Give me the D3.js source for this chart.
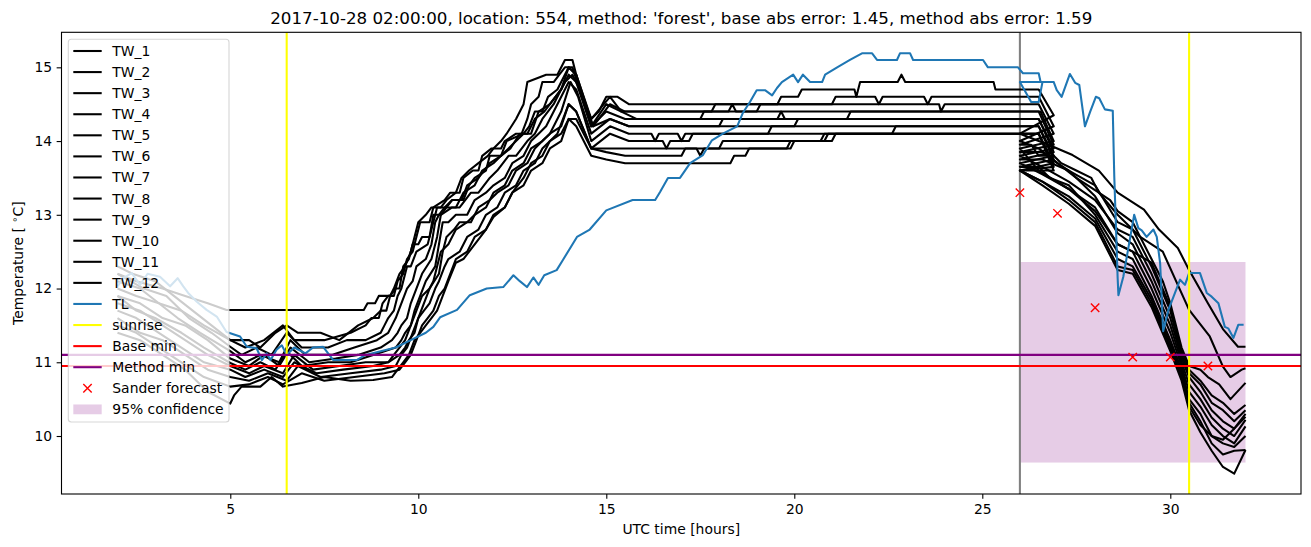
<!DOCTYPE html>
<html><head><meta charset="utf-8">
<script src="https://cdn.jsdelivr.net/npm/d3@7"></script>
<style>body{margin:0;background:#fff}svg{display:block}text{font-family:"DejaVu Sans",sans-serif;fill:#000}</style>
</head><body><svg id="c" width="1311" height="547"></svg>
<script>
// ---------- DATA ----------
const titleText = "2017-10-28 02:00:00, location: 554, method: 'forest', base abs error: 1.45, method abs error: 1.59";
const xTicks = [5, 10, 15, 20, 25, 30];
const yTicks = [10, 11, 12, 13, 14, 15];
const twNames = ["TW_1","TW_2","TW_3","TW_4","TW_5","TW_6","TW_7","TW_8","TW_9","TW_10","TW_11","TW_12"];

const tw1 = [[2,12.2],[2.5,12.1],[3.2,12.0],[3.8,11.9],[4.4,11.8],[4.9,11.71],[8.55,11.71],[8.65,11.8],[8.85,11.8],[8.95,11.9],[9.25,11.9],[9.35,12.0],[9.5,12.2],[9.65,12.3],[9.8,12.5],[9.9,12.7],[10.0,12.9],[10.2,13.0],[10.35,13.1],[10.6,13.1],[10.75,13.2],[11.0,13.3],[11.15,13.5],[11.35,13.6],[11.6,13.7],[11.85,13.8],[12.0,13.9],[12.2,14.0],[12.35,14.1],[12.6,14.3],[12.8,14.5],[12.9,14.8],[13.4,14.9],[13.7,14.9],[13.9,15.1],[14.1,15.1],[14.35,14.6],[14.6,14.3],[14.8,14.4],[15.0,14.6],[15.3,14.6],[15.6,14.5],[19.55,14.5],[19.65,14.6],[20.1,14.6],[20.2,14.7],[21.6,14.7],[21.65,14.6],[21.75,14.8],[22.75,14.8],[22.85,14.9],[22.95,14.8],[25.3,14.8],[25.35,14.7],[26.5,14.7],[26.9,14.35],
  [26.0,14.1],[26.5,14.0],[26.9,13.92],[27.4,13.81],[28.1,13.6],[28.6,13.3],[29.3,13.07],[29.7,12.8],[30.2,12.55],[30.5,12.25],[31.0,11.8],[31.4,11.45],[31.8,11.21],[32.0,11.21]];
const tw2 = [[2,12.3],[2.4,12.2],[3.0,12.1],[3.5,11.9],[4.0,11.7],[4.5,11.5],[5.0,11.3],[5.4,11.2],[5.9,11.3],[6.4,11.5],[6.7,11.3],[7.5,11.3],[8.2,11.4],[8.6,11.5],[8.75,11.6],[8.95,11.6],[9.05,11.8],[9.2,11.9],[9.35,11.9],[9.45,12.1],[9.6,12.2],[9.7,12.4],[9.85,12.5],[9.95,12.7],[10.05,12.9],[10.3,12.9],[10.4,13.1],[10.7,13.2],[10.85,13.3],[11.1,13.3],[11.2,13.5],[11.45,13.6],[11.6,13.6],[11.7,13.8],[11.95,13.9],[12.2,13.9],[12.3,14.0],[12.6,14.1],[12.75,14.1],[12.9,14.3],[13.0,14.5],[13.2,14.6],[13.3,14.8],[13.6,14.8],[13.75,14.9],[13.9,15.0],[14.1,15.0],[14.6,14.2],[15.0,14.5],[15.4,14.4],[17.8,14.4],[17.9,14.5],[21.0,14.5],[21.1,14.6],[22.15,14.6],[22.25,14.5],[22.35,14.6],[23.45,14.6],[23.55,14.5],[23.65,14.6],[26.5,14.6],[26.9,14.2],
  [26.0,14.0],[26.5,13.9],[27.0,13.7],[27.5,13.5],[28.1,13.3],[28.6,13.0],[29.2,12.7],[29.8,12.5],[30.5,11.71],[31.05,11.35],[31.4,10.94],[31.6,10.8],[31.9,10.9],[32.0,10.92]];
const tw3 = [[2,12.1],[2.6,12.0],[3.1,11.8],[3.7,11.7],[4.3,11.5],[5.0,11.3],[5.5,11.3],[5.8,11.2],[6.2,11.4],[6.5,11.5],[6.8,11.4],[7.4,11.4],[7.9,11.3],[8.4,11.5],[8.8,11.6],[9.0,11.7],[9.15,11.7],[9.25,11.9],[9.4,12.0],[9.5,12.0],[9.6,12.3],[9.75,12.4],[9.85,12.6],[10.0,12.6],[10.1,12.7],[10.3,12.7],[10.4,13.0],[10.6,13.0],[10.75,13.1],[10.9,13.2],[11.2,13.2],[11.35,13.4],[11.5,13.5],[11.8,13.6],[11.9,13.8],[12.2,13.8],[12.35,14.0],[12.8,14.1],[12.95,14.2],[13.1,14.4],[13.3,14.4],[13.45,14.6],[13.7,14.7],[13.8,14.8],[14.0,15.0],[14.2,14.9],[14.65,14.2],[15.1,14.5],[15.5,14.4],[19.0,14.4],[19.1,14.5],[23.85,14.5],[23.9,14.4],[24.0,14.5],[26.5,14.5],[26.9,14.1],
  [26.0,13.95],[26.3,13.95],[26.5,13.8],[26.9,13.8],[27.1,13.7],[27.5,13.6],[27.9,13.5],[28.1,13.3],[28.4,13.2],[28.6,13.05],[29.0,12.9],[29.2,12.7],[29.5,12.4],[29.8,12.1],[30.0,11.8],[30.3,11.2],[30.5,10.95],[30.8,10.9],[31.0,10.8],[31.3,10.7],[31.6,10.5],[32.0,10.72]];
const tw4 = [[2,12.2],[2.7,12.0],[3.3,11.9],[3.9,11.6],[4.5,11.4],[5.0,11.21],[5.3,11.1],[5.7,11.2],[6.1,11.1],[6.5,11.4],[6.9,11.2],[7.6,11.2],[8.1,11.3],[8.6,11.3],[9.0,11.4],[9.1,11.5],[9.2,11.6],[9.35,11.7],[9.45,11.9],[9.55,12.0],[9.7,12.3],[9.8,12.3],[9.95,12.5],[10.25,12.6],[10.4,12.9],[10.5,13.1],[10.7,13.1],[10.9,13.2],[11.15,13.2],[11.3,13.4],[11.6,13.5],[11.75,13.6],[11.9,13.7],[12.2,13.8],[12.4,13.9],[12.6,14.0],[12.8,14.1],[13.0,14.1],[13.2,14.4],[13.5,14.5],[13.8,14.7],[14.0,15.0],[14.2,14.9],[14.6,14.3],[15.1,14.6],[15.4,14.4],[15.8,14.3],[17.5,14.3],[17.6,14.4],[18.25,14.4],[18.35,14.5],[18.45,14.4],[26.55,14.4],[26.9,14.0],
  [26.0,13.9],[26.5,13.6],[27.3,13.35],[28.0,13.1],[28.6,12.6],[29.0,12.5],[29.5,12.35],[30.0,11.75],[30.3,11.15],[30.5,10.9],[30.8,10.75],[31.1,10.55],[31.4,10.45],[31.7,10.3],[32.0,10.42]];
const tw5 = [[2,12.0],[2.5,11.9],[3.1,11.8],[3.6,11.6],[4.2,11.4],[5.0,11.15],[5.4,11.0],[5.8,11.1],[6.3,11.0],[6.6,11.3],[7.0,11.1],[7.7,11.1],[8.3,11.2],[8.9,11.3],[9.2,11.4],[9.3,11.5],[9.4,11.6],[9.55,11.8],[9.7,12.0],[9.85,12.1],[9.95,12.3],[10.2,12.4],[10.35,12.6],[10.45,12.9],[10.55,13.0],[10.7,13.1],[11.0,13.1],[11.2,13.3],[11.5,13.4],[11.7,13.6],[12.0,13.7],[12.2,13.8],[12.45,13.9],[12.7,14.1],[12.9,14.1],[13.1,14.3],[13.35,14.4],[13.5,14.5],[13.8,14.7],[14.0,14.9],[14.2,14.8],[14.6,14.2],[15.0,14.4],[15.5,14.3],[21.4,14.3],[21.5,14.4],[26.5,14.4],[26.9,13.95],
  [26.0,13.85],[26.6,13.85],[27.0,13.7],[27.3,13.6],[28.0,13.4],[28.6,12.9],[29.0,12.8],[29.5,12.3],[30.0,11.7],[30.3,11.1],[30.5,10.85],[30.8,10.7],[31.1,10.45],[31.4,10.35],[31.7,10.2],[32.0,10.35]];
const tw6 = [[2,11.9],[2.6,11.8],[3.2,11.6],[3.8,11.5],[4.4,11.3],[5.0,11.05],[5.5,10.95],[5.9,11.1],[6.3,10.95],[6.6,11.2],[7.1,11.0],[7.8,11.05],[8.4,11.1],[9.0,11.2],[9.3,11.3],[9.45,11.4],[9.55,11.5],[9.7,11.6],[9.8,11.8],[9.95,12.0],[10.1,12.2],[10.35,12.4],[10.5,12.7],[10.6,13.0],[10.9,13.1],[11.1,13.1],[11.4,13.3],[11.6,13.3],[11.9,13.5],[12.1,13.6],[12.4,13.8],[12.6,13.8],[12.9,14.0],[13.1,14.1],[13.3,14.3],[13.6,14.5],[13.9,14.8],[14.1,14.9],[14.3,14.7],[14.65,14.2],[15.1,14.3],[15.6,14.2],[18.0,14.2],[18.1,14.3],[19.55,14.3],[19.65,14.4],[19.75,14.3],[26.5,14.3],[26.9,13.9],
  [26.0,13.8],[26.6,13.65],[27.3,13.45],[28.0,13.2],[28.6,12.8],[29.0,12.7],[29.5,12.2],[30.0,11.6],[30.3,11.05],[30.5,10.8],[30.8,10.6],[31.1,10.35],[31.4,10.2],[31.7,10.1],[32.0,10.26]];
const tw7 = [[2,11.9],[2.5,11.7],[3.0,11.6],[3.7,11.4],[4.3,11.2],[5.0,10.99],[5.4,10.9],[5.8,11.0],[6.2,10.9],[6.5,11.15],[6.9,10.95],[7.6,11.0],[8.2,11.0],[8.8,11.1],[9.4,11.2],[9.55,11.3],[9.65,11.4],[9.8,11.5],[9.9,11.7],[10.05,11.9],[10.2,12.1],[10.45,12.3],[10.55,12.6],[10.65,12.9],[10.8,12.9],[11.0,13.0],[11.3,13.0],[11.5,13.2],[11.8,13.3],[12.0,13.4],[12.3,13.5],[12.5,13.7],[12.8,13.8],[13.0,14.0],[13.2,14.1],[13.4,14.2],[13.7,14.5],[14.0,14.8],[14.2,14.7],[14.6,14.1],[15.1,14.3],[15.6,14.2],[20.0,14.2],[20.1,14.3],[26.5,14.3],[26.9,13.85],
  [26.0,13.75],[26.6,13.75],[27.3,13.6],[28.0,13.25],[28.6,12.75],[29.0,12.6],[29.5,12.1],[30.0,11.5],[30.3,11.0],[30.5,10.7],[30.8,10.5],[31.1,10.25],[31.4,10.1],[31.7,10.0],[32.0,10.22]];
const tw8 = [[2,11.8],[2.6,11.7],[3.2,11.5],[3.8,11.3],[4.4,11.1],[5.0,10.95],[5.5,10.85],[5.9,10.95],[6.4,10.85],[6.7,11.1],[7.2,10.9],[7.9,10.95],[8.6,11.0],[9.2,11.0],[9.5,11.1],[9.65,11.2],[9.75,11.3],[9.9,11.4],[10.0,11.6],[10.15,11.8],[10.3,12.0],[10.55,12.2],[10.65,12.5],[10.75,12.7],[10.95,12.8],[11.1,12.9],[11.4,12.9],[11.6,13.1],[11.9,13.2],[12.1,13.3],[12.4,13.4],[12.6,13.6],[12.9,13.7],[13.1,13.9],[13.3,14.0],[13.5,14.1],[13.8,14.4],[14.05,14.8],[14.25,14.6],[14.6,14.0],[15.1,14.2],[15.6,14.1],[16.2,14.1],[16.3,14.0],[16.4,14.1],[16.9,14.1],[17.0,14.0],[17.1,14.1],[19.3,14.1],[19.4,14.2],[26.5,14.2],[26.9,13.8],
  [26.0,13.7],[26.6,13.55],[27.3,13.35],[28.0,13.05],[28.6,12.6],[29.0,12.5],[29.5,12.0],[30.0,11.4],[30.3,10.95],[30.5,10.6],[30.8,10.4],[31.1,10.15],[31.4,10.0],[31.7,9.9],[32.0,10.13]];
const tw9 = [[2,11.7],[2.5,11.6],[3.1,11.4],[3.7,11.2],[4.3,11.0],[5.0,10.9],[5.4,10.8],[5.9,10.9],[6.4,10.8],[6.7,11.0],[7.3,10.85],[8.0,10.9],[8.8,10.95],[9.2,11.0],[9.35,11.1],[9.5,11.2],[9.65,11.3],[9.8,11.5],[9.95,11.7],[10.1,11.9],[10.3,12.0],[10.4,12.1],[10.5,12.3],[10.6,12.5],[10.8,12.6],[11.0,12.8],[11.3,12.9],[11.5,13.0],[11.8,13.1],[12.0,13.3],[12.3,13.4],[12.5,13.6],[12.8,13.7],[13.0,13.9],[13.3,14.0],[13.5,14.1],[13.8,14.2],[14.0,14.5],[14.2,14.4],[14.6,13.9],[15.1,14.1],[15.6,14.0],[16.5,14.0],[16.6,13.9],[16.7,14.0],[17.2,14.0],[17.3,14.1],[22.6,14.1],[22.7,14.2],[26.5,14.2],[26.9,13.75],
  [26.0,13.65],[26.5,13.65],[26.8,13.5],[27.3,13.4],[28.0,13.0],[28.6,12.5],[29.0,12.4],[29.5,11.9],[30.0,11.3],[30.3,10.9],[30.5,10.5],[30.8,10.3],[31.1,10.0],[31.4,9.9],[31.7,9.85],[32.0,10.0]];
const tw10 = [[2,11.6],[2.6,11.4],[3.2,11.3],[3.8,11.1],[4.4,10.9],[5.0,10.8],[5.5,10.75],[6.0,10.85],[6.5,10.75],[6.8,10.95],[7.4,10.8],[8.2,10.85],[9.0,10.9],[9.4,10.95],[9.55,11.1],[9.7,11.2],[9.85,11.4],[10.0,11.6],[10.15,11.7],[10.3,11.8],[10.45,12.0],[10.55,12.1],[10.7,12.3],[10.8,12.4],[11.1,12.5],[11.3,12.7],[11.6,12.8],[11.8,13.0],[12.1,13.1],[12.3,13.3],[12.6,13.4],[12.8,13.6],[13.1,13.7],[13.3,13.9],[13.7,14.1],[13.85,14.3],[14.0,14.5],[14.2,14.4],[14.6,13.9],[15.0,13.85],[15.5,13.8],[17.0,13.8],[17.1,13.9],[18.0,13.9],[18.1,14.0],[21.0,14.0],[21.1,14.1],[26.5,14.1],[26.9,13.7],
  [26.0,13.6],[26.6,13.45],[27.3,13.25],[28.0,12.95],[28.6,12.4],[29.0,12.3],[29.5,11.85],[30.0,11.25],[30.3,10.85],[30.5,10.45],[30.8,10.2],[31.1,9.9],[31.4,9.75],[31.7,9.8],[32.0,9.81]];
const tw11 = [[2,11.5],[2.5,11.4],[3.1,11.2],[3.7,11.0],[4.3,10.8],[5.0,10.67],[5.5,10.7],[6.0,10.8],[6.4,10.7],[6.9,10.85],[7.5,10.75],[8.3,10.8],[9.1,10.85],[9.5,10.9],[9.65,11.0],[9.8,11.1],[9.95,11.3],[10.1,11.5],[10.25,11.6],[10.4,11.7],[10.55,11.9],[10.7,12.0],[10.85,12.2],[11.0,12.4],[11.3,12.5],[11.5,12.7],[11.8,12.8],[12.0,13.0],[12.3,13.1],[12.5,13.3],[12.8,13.5],[13.0,13.7],[13.3,13.8],[13.5,14.0],[13.8,14.1],[14.0,14.3],[14.2,14.3],[14.6,13.9],[15.0,13.9],[17.4,13.9],[17.5,13.8],[17.6,13.9],[19.9,13.9],[20.0,14.0],[20.8,14.0],[20.9,14.1],[26.5,14.1],[26.9,13.65],
  [26.0,13.6],[26.6,13.45],[27.3,13.2],[28.0,12.9],[28.6,12.3],[29.0,12.25],[29.5,11.8],[30.0,11.2],[30.3,10.8],[30.5,10.4],[30.8,10.15],[31.1,10.0],[31.4,9.95],[31.7,10.1],[32.0,10.3]];
const tw12 = [[2,11.4],[2.6,11.3],[3.2,11.1],[3.8,10.9],[4.4,10.6],[5.0,10.44],[5.1,10.55],[5.3,10.67],[5.8,10.67],[6.1,10.8],[6.4,10.67],[6.9,10.72],[7.5,10.8],[8.2,10.75],[8.8,10.76],[9.3,10.8],[9.45,10.9],[9.6,11.0],[9.75,11.1],[9.9,11.3],[10.05,11.4],[10.2,11.5],[10.35,11.6],[10.5,11.7],[10.65,11.9],[10.8,12.1],[11.0,12.35],[11.2,12.4],[11.5,12.6],[11.8,12.8],[12.0,12.97],[12.3,13.1],[12.5,13.3],[12.8,13.4],[13.0,13.6],[13.3,13.7],[13.5,13.9],[13.8,14.0],[14.0,14.3],[14.2,14.2],[14.6,13.8],[15.0,13.75],[15.5,13.7],[18.3,13.7],[18.4,13.8],[18.7,13.8],[18.8,13.9],[19.8,13.9],[19.9,14.0],[20.7,14.0],[20.8,14.1],[26.5,14.1],[26.9,13.6],
  [26.0,13.6],[26.6,13.4],[27.3,13.15],[28.0,12.85],[28.6,12.25],[29.0,12.2],[29.5,11.75],[30.0,11.15],[30.3,10.75],[30.5,10.35],[30.8,10.05],[31.1,9.8],[31.4,9.58],[31.7,9.49],[32.0,9.81]];

const tl = [[2.0,12.03],[2.15,12.14],[2.38,12.21],[2.6,12.05],[2.8,12.2],[3.13,12.16],[3.4,12.03],[3.6,12.14],[3.75,12.03],[3.88,11.94],[4.11,11.82],[4.37,11.71],[4.64,11.62],[4.9,11.41],[5.26,11.35],[5.44,11.21],[5.7,11.19],[5.84,11.03],[5.97,11.12],[6.07,11.03],[6.23,11.17],[6.37,11.23],[6.5,11.1],[6.7,11.2],[7.0,11.12],[7.2,11.2],[7.47,11.21],[7.74,11.03],[8.36,11.03],[8.6,11.1],[9.0,11.15],[9.4,11.2],[9.8,11.3],[10.2,11.4],[10.4,11.48],[10.58,11.61],[11.03,11.71],[11.37,11.91],[11.82,12.0],[12.26,12.02],[12.53,12.18],[12.7,12.1],[12.89,12.02],[13.06,12.15],[13.2,12.05],[13.35,12.18],[13.68,12.25],[13.85,12.39],[14.22,12.7],[14.56,12.8],[15.0,13.06],[15.7,13.2],[16.3,13.2],[16.43,13.31],[16.64,13.5],[16.96,13.5],[17.23,13.7],[17.57,13.81],[17.81,14.01],[18.1,14.1],[18.48,14.2],[18.63,14.38],[18.82,14.53],[19.0,14.69],[19.22,14.69],[19.41,14.62],[19.54,14.72],[19.67,14.8],[19.97,14.9],[20.1,14.8],[20.23,14.9],[20.42,14.8],[20.74,14.8],[20.82,14.9],[21.14,15.0],[21.48,15.1],[21.8,15.19],[22.07,15.19],[22.2,15.1],[22.73,15.1],[22.81,15.19],[23.08,15.19],[23.16,15.1],[25.02,15.1],[25.15,15.0],[25.95,15.0],[26.08,14.92],[26.5,14.92],[26.55,14.8],[26.9,14.8],
  [26.0,14.8],[26.3,14.53],[26.5,14.53],[26.6,14.8],[26.9,14.8],[26.98,14.69],[27.11,14.6],[27.33,14.91],[27.47,14.79],[27.58,14.76],[27.73,14.2],[27.87,14.4],[28.02,14.6],[28.11,14.58],[28.26,14.43],[28.47,14.41],[28.51,13.52],[28.6,12.14],[28.62,11.91],[28.75,12.16],[29.04,13.0],[29.15,12.82],[29.24,12.79],[29.37,12.7],[29.55,12.8],[29.64,12.7],[29.73,12.34],[29.81,11.42],[29.95,11.71],[30.26,12.12],[30.39,12.05],[30.5,12.21],[30.79,12.21],[30.97,11.94],[31.1,11.89],[31.28,11.8],[31.45,11.48],[31.54,11.46],[31.68,11.33],[31.81,11.51],[31.95,11.51]];

const sunriseH = [6.5, 30.5];
const forecastStartH = 26;
const baseMin = 10.95;
const methodMin = 11.1;
const sanderH = [26, 27, 28, 29, 30, 31];
const sanderT = [13.3, 13.02, 11.74, 11.07, 11.07, 10.95];
const confH = [26, 32];
const confT = [9.64, 12.36];

// ---------- LAYOUT ----------
const svg = d3.select("#c");
const L = 61.5, R = 1301, T = 32.3, B = 494;
const x = d3.scaleLinear().domain([0.511, 33.476]).range([L, R]);
const y = d3.scaleLinear().domain([9.2135, 15.475]).range([B, T]);
const FS = 13.9;

svg.append("clipPath").attr("id","clip").append("rect").attr("x",L).attr("y",T).attr("width",R-L).attr("height",B-T);
const g = svg.append("g").attr("clip-path","url(#clip)");

g.append("rect").attr("x",x(confH[0])).attr("width",x(confH[1])-x(confH[0]))
 .attr("y",y(confT[1])).attr("height",y(confT[0])-y(confT[1]))
 .attr("fill","purple").attr("fill-opacity",0.2);

g.append("line").attr("x1",x(forecastStartH)).attr("x2",x(forecastStartH)).attr("y1",T).attr("y2",B)
 .attr("stroke","#808080").attr("stroke-width",2.08);

const line = d3.line().x(d=>x(d[0])).y(d=>y(d[1]));
const tws = [tw1,tw2,tw3,tw4,tw5,tw6,tw7,tw8,tw9,tw10,tw11,tw12];
tws.forEach(s=>{
  g.append("path").attr("d",line(s)).attr("fill","none").attr("stroke","#000").attr("stroke-width",2.08).attr("stroke-linejoin","round");
});
g.append("path").attr("d",line(tl)).attr("fill","none").attr("stroke","#1f77b4").attr("stroke-width",2.08).attr("stroke-linejoin","round");

sunriseH.forEach(h=>{
  g.append("line").attr("x1",x(h)).attr("x2",x(h)).attr("y1",T).attr("y2",B).attr("stroke","#ffff00").attr("stroke-width",2.08);
});
g.append("line").attr("x1",L).attr("x2",R).attr("y1",y(baseMin)).attr("y2",y(baseMin)).attr("stroke","#ff0000").attr("stroke-width",2.08);
g.append("line").attr("x1",L).attr("x2",R).attr("y1",y(methodMin)).attr("y2",y(methodMin)).attr("stroke","#800080").attr("stroke-width",2.08);

const ms = 4.2;
sanderH.forEach((h,i)=>{
  const cx = x(h), cy = y(sanderT[i]);
  g.append("path").attr("d",`M${cx-ms},${cy-ms}L${cx+ms},${cy+ms}M${cx-ms},${cy+ms}L${cx+ms},${cy-ms}`)
   .attr("stroke","#ff0000").attr("stroke-width",1.4).attr("fill","none");
});

svg.append("rect").attr("x",L).attr("y",T).attr("width",R-L).attr("height",B-T).attr("fill","none").attr("stroke","#000").attr("stroke-width",1.1);

const xa = svg.append("g").attr("transform",`translate(0,${B})`)
  .call(d3.axisBottom(x).tickValues(xTicks).tickSize(4.86).tickPadding(4.5).tickFormat(d3.format("d")));
xa.select(".domain").remove();
xa.selectAll("line").attr("stroke","#000").attr("stroke-width",1.1);
xa.selectAll("text").attr("font-size",FS).attr("font-family","DejaVu Sans").attr("dy","0.75em");

const ya = svg.append("g").attr("transform",`translate(${L},0)`)
  .call(d3.axisLeft(y).tickValues(yTicks).tickSize(4.86).tickPadding(4.5).tickFormat(d3.format("d")));
ya.select(".domain").remove();
ya.selectAll("line").attr("stroke","#000").attr("stroke-width",1.1);
ya.selectAll("text").attr("font-size",FS).attr("font-family","DejaVu Sans");

svg.append("text").attr("x",(L+R)/2).attr("y",24).attr("text-anchor","middle").attr("font-size",16.7).text(titleText);
svg.append("text").attr("x",(L+R)/2).attr("y",534).attr("text-anchor","middle").attr("font-size",FS).text("UTC time [hours]");
const yl = svg.append("text").attr("transform",`translate(23,${(T+B)/2}) rotate(-90)`).attr("text-anchor","middle").attr("font-size",FS);
yl.append("tspan").text("Temperature [ ");
yl.append("tspan").attr("font-size",FS*0.7).attr("dy",-5).text("∘");
yl.append("tspan").attr("dy",5).text("C]");

const lg = svg.append("g");
lg.append("rect").attr("x",68.3).attr("y",39.3).attr("width",160.7).attr("height",382.7).attr("rx",3)
  .attr("fill","#fff").attr("fill-opacity",0.8).attr("stroke","#cccccc").attr("stroke-width",1.1).attr("stroke-opacity",0.8);
const entries = twNames.map(n=>({label:n,type:"line",color:"#000"}))
  .concat([{label:"TL",type:"line",color:"#1f77b4"},{label:"sunrise",type:"line",color:"#ffff00"},
           {label:"Base min",type:"line",color:"#ff0000"},{label:"Method min",type:"line",color:"#800080"},
           {label:"Sander forecast",type:"x",color:"#ff0000"},{label:"95% confidence",type:"patch",color:"purple"}]);
entries.forEach((e,i)=>{
  const cy = 51 + i*21.08;
  if(e.type==="line") lg.append("line").attr("x1",73.3).attr("x2",101.7).attr("y1",cy).attr("y2",cy).attr("stroke",e.color).attr("stroke-width",2.08);
  else if(e.type==="x"){ const cx=87.5; lg.append("path").attr("d",`M${cx-ms},${cy-ms}L${cx+ms},${cy+ms}M${cx-ms},${cy+ms}L${cx+ms},${cy-ms}`).attr("stroke",e.color).attr("stroke-width",1.4);}
  else lg.append("rect").attr("x",73.3).attr("width",28.4).attr("y",cy-4.9).attr("height",9.8).attr("fill",e.color).attr("fill-opacity",0.2);
  lg.append("text").attr("x",112.3).attr("y",cy).attr("dy","0.36em").attr("font-size",FS).text(e.label);
});
</script></body></html>
